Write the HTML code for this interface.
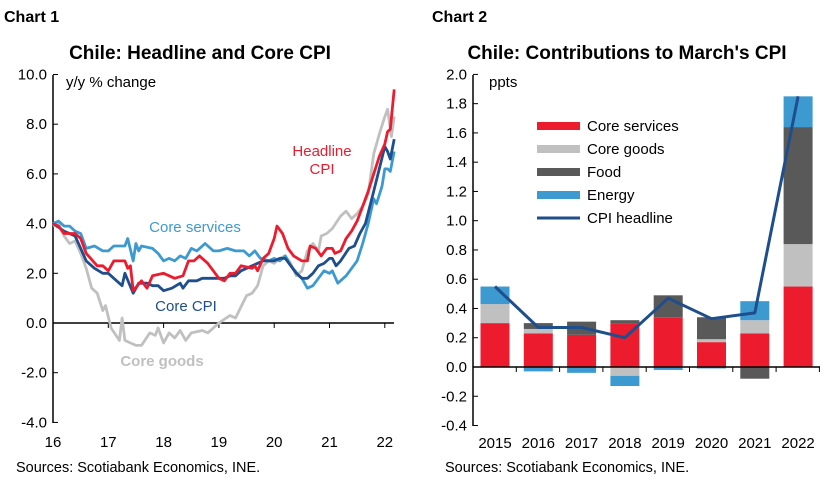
<!DOCTYPE html>
<html><head><meta charset="utf-8"><style>
body{margin:0;background:#fff;}
svg{display:block;font-family:"Liberation Sans",sans-serif;}
</style></head><body>
<svg id="s" width="828" height="483" viewBox="0 0 828 483" xmlns="http://www.w3.org/2000/svg">
<text x="4" y="22" font-size="16" font-weight="bold">Chart 1</text>
<text x="432" y="22" font-size="16" font-weight="bold">Chart 2</text>
<text x="200" y="59" font-size="19" font-weight="bold" text-anchor="middle">Chile: Headline and Core CPI</text>
<text x="627" y="59" font-size="19" font-weight="bold" text-anchor="middle">Chile: Contributions to March's CPI</text>
<text x="16" y="472" font-size="14.5">Sources: Scotiabank Economics, INE.</text>
<text x="445" y="472" font-size="14.5">Sources: Scotiabank Economics, INE.</text>
<g id="c1"></g><g id="c2"></g>
</svg>
<script>
var NS="http://www.w3.org/2000/svg";
function el(p,t,a,txt){var e=document.createElementNS(NS,t);for(var k in a)e.setAttribute(k,a[k]);if(txt!=null)e.textContent=txt;p.appendChild(e);return e;}
var c1=document.getElementById('c1');
function X1(t){return 53+(t-16)*55.3;} function Y1(v){return 323-v*24.85;}
el(c1,'line',{x1:53,y1:75,x2:53,y2:423,stroke:'#000','stroke-width':1.5});
for(var v=-4;v<=10;v+=2){var y=Y1(v);el(c1,'line',{x1:53,y1:y,x2:58,y2:y,stroke:'#000'});el(c1,'text',{x:47,y:y+5,'font-size':15,'text-anchor':'end'},v.toFixed(1));}
el(c1,'line',{x1:53,y1:323,x2:394,y2:323,stroke:'#000','stroke-width':1.5});
for(var yr=16;yr<=22;yr++){var x=X1(yr);if(yr>16)el(c1,'line',{x1:x,y1:323,x2:x,y2:328,stroke:'#000'});el(c1,'text',{x:x,y:447,'font-size':15,'text-anchor':'middle'},String(yr));}
el(c1,'text',{x:66,y:87,'font-size':15},'y/y  % change');
function line(p,pts,col,w){var s=pts.map(function(q){return X1(q[0]).toFixed(1)+','+Y1(q[1]).toFixed(1);}).join(' ');el(p,'polyline',{points:s,fill:'none',stroke:col,'stroke-width':w||2.8,'stroke-linejoin':'round'});}
var goods=[[16,3.9],[16.1,4.0],[16.2,3.5],[16.3,3.2],[16.4,3.3],[16.5,2.8],[16.6,2.2],[16.7,1.4],[16.8,1.2],[16.9,0.5],[16.95,0.7],[17.05,-0.2],[17.2,-0.7],[17.25,0.2],[17.3,-0.7],[17.5,-0.9],[17.6,-0.9],[17.75,-0.4],[17.85,-0.5],[17.9,-0.2],[18.0,-0.8],[18.1,-0.4],[18.2,-0.6],[18.3,-0.3],[18.4,-0.7],[18.5,-0.4],[18.7,-0.3],[18.8,-0.4],[19.0,0.0],[19.2,0.3],[19.3,0.2],[19.5,1.1],[19.6,1.2],[19.7,1.5],[19.8,2.3],[19.9,2.5],[20.0,2.4],[20.1,2.6],[20.2,2.7],[20.3,2.4],[20.4,1.9],[20.5,2.1],[20.6,2.9],[20.7,3.2],[20.8,2.9],[20.85,3.5],[20.95,3.6],[21.05,3.8],[21.2,4.3],[21.3,4.5],[21.4,4.2],[21.5,4.4],[21.6,4.7],[21.7,5.2],[21.8,6.8],[21.9,7.6],[22.0,8.3],[22.05,8.6],[22.12,7.5],[22.17,8.3]];
var serv=[[16,4.0],[16.1,4.1],[16.2,3.9],[16.3,3.9],[16.4,3.7],[16.5,3.6],[16.6,3.0],[16.75,3.1],[16.9,2.9],[17.0,2.9],[17.1,3.1],[17.3,3.1],[17.35,3.4],[17.45,2.5],[17.5,3.2],[17.55,2.9],[17.6,3.1],[17.8,3.0],[17.9,2.8],[18.0,2.5],[18.1,2.6],[18.2,2.5],[18.3,2.7],[18.4,2.6],[18.5,3.0],[18.6,2.9],[18.75,3.2],[18.9,2.9],[19.0,2.9],[19.15,3.0],[19.3,2.9],[19.45,2.9],[19.55,2.7],[19.65,2.9],[19.75,2.6],[19.9,2.5],[20.0,2.6],[20.1,2.5],[20.2,2.7],[20.3,2.3],[20.45,1.9],[20.5,1.8],[20.6,1.4],[20.7,1.5],[20.9,2.1],[21.0,2.0],[21.05,2.1],[21.15,1.6],[21.3,1.9],[21.5,2.5],[21.6,3.2],[21.7,4.0],[21.8,5.0],[21.85,4.8],[21.95,5.5],[22.0,6.2],[22.05,6.2],[22.1,6.1],[22.17,6.9]];
var core=[[16,4.0],[16.2,3.7],[16.4,3.5],[16.5,3.0],[16.6,2.5],[16.75,2.2],[16.9,2.0],[17.0,2.0],[17.1,1.8],[17.25,1.5],[17.3,2.0],[17.45,1.2],[17.55,1.6],[17.7,1.6],[17.8,1.5],[17.9,1.5],[18.0,1.3],[18.15,1.4],[18.3,1.6],[18.35,1.4],[18.45,1.7],[18.6,1.7],[18.7,1.8],[18.9,1.8],[19.0,1.8],[19.1,1.8],[19.2,1.9],[19.3,1.9],[19.4,2.1],[19.6,2.3],[19.8,2.5],[20.0,2.5],[20.1,2.6],[20.2,2.6],[20.3,2.3],[20.4,2.0],[20.5,1.8],[20.6,1.8],[20.7,2.0],[20.8,2.3],[20.9,2.4],[21.0,2.6],[21.05,2.6],[21.12,2.3],[21.2,2.5],[21.35,3.0],[21.45,3.1],[21.55,3.6],[21.65,4.0],[21.8,5.3],[21.9,6.2],[22.0,7.1],[22.05,6.9],[22.1,6.6],[22.17,7.4]];
var head=[[16.0,4.0],[16.1,3.9],[16.2,3.6],[16.4,3.6],[16.5,3.4],[16.6,2.8],[16.8,2.3],[16.9,2.3],[17.0,2.1],[17.1,2.5],[17.3,2.5],[17.35,2.2],[17.4,2.3],[17.45,1.3],[17.6,1.7],[17.7,1.4],[17.8,1.9],[18.0,2.0],[18.2,1.8],[18.35,1.9],[18.45,2.5],[18.55,2.5],[18.65,2.7],[18.8,2.4],[19.0,1.8],[19.1,1.7],[19.2,2.0],[19.3,2.0],[19.4,2.3],[19.6,2.2],[19.65,2.3],[19.7,2.1],[19.8,2.6],[19.9,2.8],[20.0,3.4],[20.05,3.9],[20.15,3.6],[20.25,3.0],[20.35,2.7],[20.5,2.5],[20.6,2.5],[20.65,3.1],[20.75,3.0],[20.85,2.7],[20.95,3.0],[21.05,3.0],[21.1,2.8],[21.2,2.9],[21.3,3.4],[21.4,3.7],[21.5,4.1],[21.6,4.7],[21.7,5.3],[21.8,6.0],[21.9,6.7],[22.0,7.2],[22.05,7.7],[22.1,7.8],[22.17,9.4]];
line(c1,goods,'#c0c0c0');line(c1,serv,'#3d9ad1');line(c1,core,'#1f4e8c');line(c1,head,'#ec1c2e');
el(c1,'text',{x:322,y:156,'font-size':15,fill:'#ec1c2e','text-anchor':'middle'},'Headline');
el(c1,'text',{x:322,y:174,'font-size':15,fill:'#ec1c2e','text-anchor':'middle'},'CPI');
el(c1,'text',{x:195,y:232,'font-size':15,fill:'#3d9ad1','text-anchor':'middle'},'Core services');
el(c1,'text',{x:186,y:311,'font-size':15,fill:'#1f4e8c','text-anchor':'middle'},'Core CPI');
el(c1,'text',{x:162,y:366,'font-size':15,fill:'#c0c0c0','font-weight':'bold','text-anchor':'middle'},'Core goods');
var c2=document.getElementById('c2');
function Y2(v){return 367-v*146.3;}
var cols=['#ec1c2e','#c0c0c0','#595959','#3d9ad1'];
var data=[[.30,.13,0,.12,0,0,0,0],[.23,.03,.04,0,0,0,0,-.03],[.22,0,.09,0,0,0,0,-.04],[.30,0,.02,0,0,-.06,0,-.07],[.34,0,.15,0,0,0,0,-.02],[.17,.02,.15,0,0,0,0,-.01],[.23,.09,0,.13,0,0,-.08,0],[.55,.29,.80,.21,0,0,0,0]];
var yrs=['2015','2016','2017','2018','2019','2020','2021','2022'];
for(var i=0;i<8;i++){var cx=495+i*43.3,d=data[i],pos=0,neg=0;
for(var k=0;k<4;k++){if(d[k]>0){el(c2,'rect',{x:cx-14.5,y:Y2(pos+d[k]),width:29,height:d[k]*146.3,fill:cols[k]});pos+=d[k];}
var n=d[4+k];if(n<0){el(c2,'rect',{x:cx-14.5,y:Y2(neg),width:29,height:-n*146.3,fill:cols[k]});neg+=n;}}
el(c2,'text',{x:cx,y:448,'font-size':15,'text-anchor':'middle'},yrs[i]);}
el(c2,'line',{x1:473,y1:75,x2:473,y2:426,stroke:'#000','stroke-width':1.5});
for(var j=-2;j<=10;j++){var v2=j*0.2,yy=Y2(v2);el(c2,'line',{x1:473,y1:yy,x2:478,y2:yy,stroke:'#000'});el(c2,'text',{x:467,y:yy+5,'font-size':15,'text-anchor':'end'},v2.toFixed(1));}
el(c2,'line',{x1:473,y1:367,x2:820,y2:367,stroke:'#000','stroke-width':1.5});
for(var i=1;i<=8;i++){var tx=473+i*43.3;el(c2,'line',{x1:tx,y1:367,x2:tx,y2:372,stroke:'#000'});}
var hl=[.55,.27,.27,.20,.47,.33,.37,1.85];
el(c2,'polyline',{points:hl.map(function(v,i){return (495+i*43.3).toFixed(1)+','+Y2(v).toFixed(1);}).join(' '),fill:'none',stroke:'#1f4e8c','stroke-width':3,'stroke-linejoin':'round'});
el(c2,'text',{x:489,y:87,'font-size':15},'ppts');
var lg=['Core services','Core goods','Food','Energy'];
for(var k=0;k<4;k++){var ly=126+k*23;el(c2,'rect',{x:537,y:ly-4,width:43,height:8,fill:cols[k]});el(c2,'text',{x:587,y:ly+5,'font-size':15},lg[k]);}
el(c2,'line',{x1:537,y1:218,x2:580,y2:218,stroke:'#1f4e8c','stroke-width':3});
el(c2,'text',{x:587,y:223,'font-size':15},'CPI headline');
</script>
</body></html>
